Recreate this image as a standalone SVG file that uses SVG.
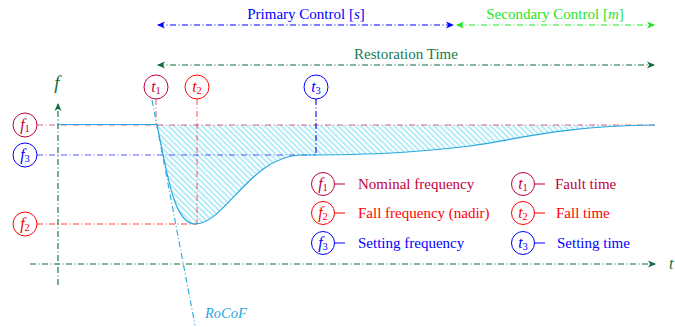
<svg xmlns="http://www.w3.org/2000/svg" width="675" height="327" viewBox="0 0 675 327" font-family="'Liberation Serif', 'DejaVu Serif', serif">
<style>
text{font-family:'Liberation Serif','DejaVu Serif',serif;font-size:15px}
.it{font-style:italic}
.dd{fill:none;stroke-width:1.1;stroke-dasharray:6 2.5 1 2.5}
.crim{fill:#bf0040;stroke:#bf0040}
.red{fill:#ff0000;stroke:#ff0000}
.blue{fill:#0000ff;stroke:#0000ff}
.circ{fill:#fff;stroke-width:1}
.lbl{stroke:none;text-anchor:middle;font-size:16px}
.sub{font-size:10.5px}
.stub{stroke-width:1}
</style>
<defs>
<marker id="aBlue" viewBox="0 0 8 8" refX="7" refY="4" markerWidth="8" markerHeight="8" markerUnits="userSpaceOnUse" orient="auto-start-reverse"><path d="M0,0.5 L8,4 L0,7.5 L2.2,4 z" fill="#0000ff"/></marker>
<marker id="aLime" viewBox="0 0 8 8" refX="7" refY="4" markerWidth="8" markerHeight="8" markerUnits="userSpaceOnUse" orient="auto-start-reverse"><path d="M0,0.5 L8,4 L0,7.5 L2.2,4 z" fill="#1ee61e"/></marker>
<marker id="aGreen" viewBox="0 0 8 8" refX="7" refY="4" markerWidth="8" markerHeight="8" markerUnits="userSpaceOnUse" orient="auto-start-reverse"><path d="M0,0.5 L8,4 L0,7.5 L2.2,4 z" fill="#0d6b3d"/></marker>
<pattern id="hatch" patternUnits="userSpaceOnUse" width="4" height="4" patternTransform="rotate(45)">
<line x1="0" y1="2" x2="4" y2="2" stroke="#5fd6ee" stroke-width="0.9"/>
</pattern>
</defs>

<path d="M157,125 C168,180 175,224 195,224 C225,224 250,157 300,155 C380,155 420,152 470,146 C520,139 560,126 655,125 Z" fill="url(#hatch)" stroke="none"/>

<g id="connectors">
<line x1="158" y1="25" x2="453" y2="25" class="dd" stroke="#0000ff" marker-start="url(#aBlue)" marker-end="url(#aBlue)"/>
<line x1="457" y1="25" x2="654" y2="25" class="dd" stroke="#1ee61e" marker-start="url(#aLime)" marker-end="url(#aLime)"/>
<line x1="158" y1="65" x2="654" y2="65" class="dd" stroke="#0d6b3d" marker-start="url(#aGreen)" marker-end="url(#aGreen)"/>
<line x1="58" y1="285" x2="58" y2="104" class="dd" stroke="#0d6b3d" marker-end="url(#aGreen)"/>
<line x1="30" y1="264" x2="655" y2="264" class="dd" stroke="#0d6b3d" marker-end="url(#aGreen)"/>
<line x1="37" y1="125" x2="655" y2="125" class="dd" stroke="#bf0040" stroke-opacity="0.6"/>
<line x1="37" y1="155" x2="316" y2="155" class="dd" stroke="#0000ff" stroke-opacity="0.65"/>
<line x1="37" y1="224" x2="197" y2="224" class="dd" stroke="#ff0000" stroke-opacity="0.75"/>
<line x1="156" y1="99" x2="156" y2="125" class="dd" stroke="#bf0040" stroke-opacity="0.6"/>
<line x1="197" y1="99" x2="197" y2="224" class="dd" stroke="#ff0000" stroke-opacity="0.6"/>
<line x1="316" y1="99" x2="316" y2="155" class="dd" stroke="#0000ff"/>
<line x1="152" y1="100" x2="195" y2="325" class="dd" stroke="#29a8e0"/>
<path d="M58,124.5 L157,124.5 C168,180 175,224 195,224 C225,224 250,157 300,155 C380,155 420,152 470,146 C520,139 560,126 655,125" fill="none" stroke="#29a8e0" stroke-width="1.2"/>
<line x1="335" y1="184" x2="345" y2="184" class="crim stub"/>
<line x1="335" y1="213" x2="345" y2="213" class="red stub"/>
<line x1="335" y1="243" x2="345" y2="243" class="blue stub"/>
<line x1="535" y1="184" x2="545" y2="184" class="crim stub"/>
<line x1="535" y1="213" x2="545" y2="213" class="red stub"/>
<line x1="535" y1="243" x2="545" y2="243" class="blue stub"/>
</g>

<text x="306" y="19" text-anchor="middle" fill="#0000ff">Primary Control [<tspan class="it">s</tspan>]</text>
<text x="555" y="19" text-anchor="middle" fill="#1ee61e">Secondary Control [<tspan class="it">m</tspan>]</text>
<text x="406" y="59" text-anchor="middle" fill="#157a50">Restoration Time</text>
<text x="57" y="89" text-anchor="middle" class="it" fill="#0d6b3d" style="font-size:19px">f</text>
<text x="669" y="269" class="it" fill="#0d6b3d" style="font-size:16px">t</text>
<text x="205" y="318" class="it" fill="#29a8e0" style="font-size:14.5px">RoCoF</text>

<g id="f1"><circle cx="25" cy="125" r="12" class="circ" stroke="#bf0040"/><text x="25" y="130" class="lbl" fill="#bf0040"><tspan class="it">f</tspan><tspan class="sub" dy="2">1</tspan></text></g>
<g id="f3"><circle cx="25" cy="155" r="12" class="circ" stroke="#0000ff"/><text x="25" y="160" class="lbl" fill="#0000ff"><tspan class="it">f</tspan><tspan class="sub" dy="2">3</tspan></text></g>
<g id="f2"><circle cx="25" cy="224" r="12" class="circ" stroke="#ff0000"/><text x="25" y="229" class="lbl" fill="#ff0000"><tspan class="it">f</tspan><tspan class="sub" dy="2">2</tspan></text></g>
<g id="t1"><circle cx="156" cy="87" r="12" class="circ" stroke="#bf0040"/><text x="156" y="92" class="lbl" fill="#bf0040"><tspan class="it">t</tspan><tspan class="sub" dy="2">1</tspan></text></g>
<g id="t2"><circle cx="197" cy="87" r="12" class="circ" stroke="#ff0000"/><text x="197" y="92" class="lbl" fill="#ff0000"><tspan class="it">t</tspan><tspan class="sub" dy="2">2</tspan></text></g>
<g id="t3"><circle cx="316" cy="87" r="12" class="circ" stroke="#0000ff"/><text x="316" y="92" class="lbl" fill="#0000ff"><tspan class="it">t</tspan><tspan class="sub" dy="2">3</tspan></text></g>

<g id="legend-f1"><circle cx="323" cy="184" r="11.5" class="circ" stroke="#bf0040"/><text x="323" y="189" class="lbl" fill="#bf0040"><tspan class="it">f</tspan><tspan class="sub" dy="2">1</tspan></text><text x="358" y="189" fill="#bf0040">Nominal frequency</text></g>
<g id="legend-f2"><circle cx="323" cy="213" r="11.5" class="circ" stroke="#ff0000"/><text x="323" y="218" class="lbl" fill="#ff0000"><tspan class="it">f</tspan><tspan class="sub" dy="2">2</tspan></text><text x="358" y="218" fill="#ff0000">Fall frequency (nadir)</text></g>
<g id="legend-f3"><circle cx="323" cy="243" r="11.5" class="circ" stroke="#0000ff"/><text x="323" y="248" class="lbl" fill="#0000ff"><tspan class="it">f</tspan><tspan class="sub" dy="2">3</tspan></text><text x="358" y="248" fill="#0000ff">Setting frequency</text></g>
<g id="legend-t1"><circle cx="523" cy="184" r="11.5" class="circ" stroke="#bf0040"/><text x="523" y="189" class="lbl" fill="#bf0040"><tspan class="it">t</tspan><tspan class="sub" dy="2">1</tspan></text><text x="555" y="189" fill="#bf0040">Fault time</text></g>
<g id="legend-t2"><circle cx="523" cy="213" r="11.5" class="circ" stroke="#ff0000"/><text x="523" y="218" class="lbl" fill="#ff0000"><tspan class="it">t</tspan><tspan class="sub" dy="2">2</tspan></text><text x="556" y="218" fill="#ff0000">Fall time</text></g>
<g id="legend-t3"><circle cx="523" cy="243" r="11.5" class="circ" stroke="#0000ff"/><text x="523" y="248" class="lbl" fill="#0000ff"><tspan class="it">t</tspan><tspan class="sub" dy="2">3</tspan></text><text x="557" y="248" fill="#0000ff">Setting time</text></g>
</svg>
